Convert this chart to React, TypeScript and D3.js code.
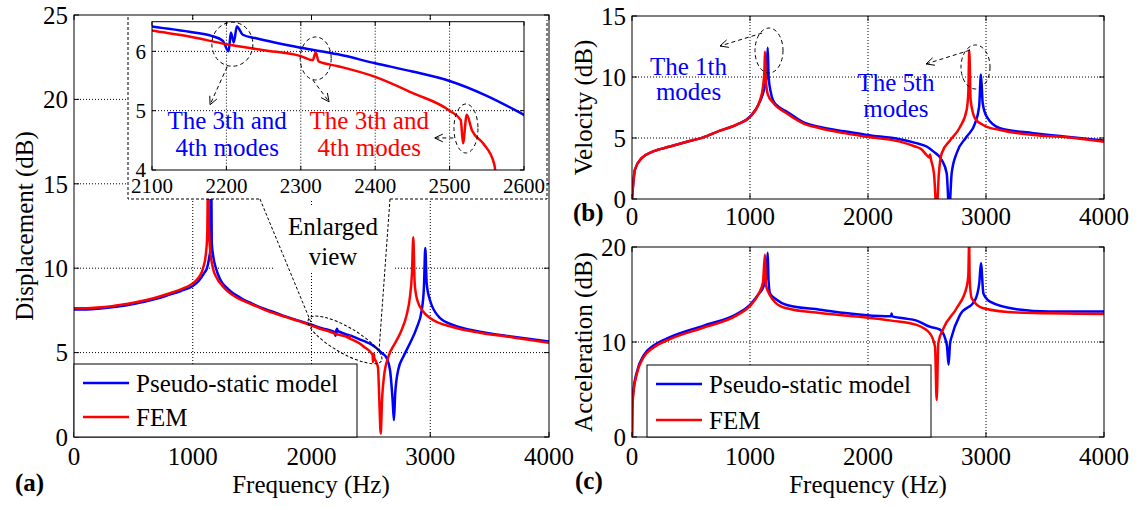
import React from "react";
import * as d3 from "d3";

// ---- data (frequency in Hz, level in dB) ----
const dispFreqPS = [0, 100, 200, 300, 400, 500, 600, 700, 800, 900, 1000, 1050, 1100, 1120, 1140, 1150, 1155, 1160, 1175, 1195, 1230, 1300, 1400, 1500, 1600, 1700, 1800, 1900, 2000, 2100, 2150, 2180, 2195, 2203, 2206, 2210, 2214, 2222, 2240, 2300, 2350, 2400, 2450, 2500, 2550, 2600, 2627, 2661, 2683, 2694, 2705, 2731, 2773, 2829, 2885, 2928, 2947, 2958, 2970, 2998, 3082, 3192, 3418, 3697, 4000];
const dispPS = [7.55, 7.56, 7.6, 7.67, 7.76, 7.88, 8.02, 8.2, 8.42, 8.65, 8.95, 9.25, 9.75, 10.0, 10.7, 11.2, 16.5, 11.5, 10.6, 10.0, 9.35, 8.75, 8.25, 7.9, 7.6, 7.35, 7.1, 6.88, 6.65, 6.42, 6.33, 6.26, 6.18, 6.0, 6.32, 6.15, 6.42, 6.28, 6.22, 6.06, 5.95, 5.8, 5.66, 5.5, 5.25, 4.93, 4.75, 3.97, 2.2, 1.0, 2.6, 4.0, 4.75, 5.55, 6.45, 7.5, 8.9, 11.2, 9.1, 8.1, 7.05, 6.64, 6.24, 5.94, 5.65];
const dispFreqFEM = [0, 100, 200, 300, 400, 500, 600, 700, 800, 900, 1000, 1050, 1087, 1110, 1122, 1130, 1136, 1145, 1170, 1200, 1250, 1300, 1400, 1500, 1600, 1700, 1800, 1900, 2000, 2100, 2150, 2200, 2250, 2300, 2316, 2320, 2324, 2350, 2400, 2450, 2500, 2515, 2518, 2523, 2530, 2545, 2560, 2571, 2583, 2594, 2610, 2647, 2703, 2759, 2801, 2829, 2846, 2857, 2869, 2891, 2942, 2998, 3194, 3418, 3697, 4000];
const dispFEM = [7.62, 7.63, 7.67, 7.73, 7.83, 7.95, 8.1, 8.28, 8.5, 8.75, 9.1, 9.45, 10.0, 10.8, 12.0, 16.5, 12.6, 11.2, 10.0, 9.45, 8.95, 8.6, 8.15, 7.85, 7.55, 7.3, 7.07, 6.85, 6.6, 6.35, 6.25, 6.12, 6.02, 5.92, 5.85, 5.98, 5.83, 5.75, 5.57, 5.3, 5.0, 4.84, 4.45, 4.93, 4.67, 4.45, 4.1, 2.2, 0.2, 2.2, 3.57, 4.75, 5.55, 6.34, 7.23, 8.3, 9.7, 11.83, 9.1, 8.1, 7.42, 7.05, 6.5, 6.18, 5.9, 5.59];

const velFreqPS = [0, 8, 25, 82, 180, 322, 450, 603, 746, 887, 1000, 1085, 1120, 1140, 1150, 1158, 1175, 1195, 1250, 1313, 1450, 1593, 1800, 1989, 2270, 2400, 2497, 2553, 2625, 2667, 2688, 2709, 2751, 2836, 2907, 2942, 2957, 2972, 3006, 3119, 3401, 3684, 4000];
const velPS = [0, 1.0, 2.4, 3.35, 3.9, 4.3, 4.65, 5.05, 5.6, 6.1, 6.75, 8.0, 9.0, 10.0, 12.4, 10.0, 8.8, 8.1, 7.5, 7.15, 6.3, 5.9, 5.55, 5.25, 4.9, 4.6, 4.3, 3.9, 3.2, 2.1, -1, 2.1, 3.75, 5.1, 6.2, 7.6, 10.2, 7.85, 6.75, 5.8, 5.4, 5.1, 4.8];
const velFreqFEM = [0, 8, 25, 82, 180, 322, 450, 603, 746, 887, 1000, 1085, 1110, 1122, 1127, 1133, 1150, 1195, 1313, 1450, 1593, 1800, 1989, 2270, 2400, 2450, 2497, 2520, 2525, 2535, 2560, 2582, 2600, 2625, 2695, 2780, 2836, 2850, 2858, 2870, 2907, 2975, 3119, 3401, 3684, 4000];
const velFEM = [0, 1.0, 2.4, 3.35, 3.9, 4.3, 4.65, 5.05, 5.6, 6.1, 6.72, 8.1, 9.2, 10.5, 12.1, 10.0, 8.6, 7.9, 7.0, 6.2, 5.8, 5.4, 5.1, 4.7, 4.3, 4.1, 3.6, 3.4, 3.65, 3.2, 2.0, -1, 2.0, 3.75, 4.8, 5.9, 7.3, 8.7, 12.2, 8.1, 6.6, 6.07, 5.65, 5.25, 5.06, 4.7];

const accFreqPS = [0, 3, 11, 40, 96, 180, 322, 603, 887, 1000, 1070, 1120, 1140, 1150, 1157, 1170, 1220, 1311, 1593, 1847, 2150, 2195, 2200, 2205, 2300, 2412, 2525, 2610, 2653, 2670, 2683, 2695, 2709, 2780, 2907, 2943, 2957, 2978, 3034, 3260, 3542, 4000];
const accPS = [0, 3.2, 4.8, 6.8, 8.55, 9.6, 10.5, 11.7, 12.95, 13.9, 15.0, 16.0, 17.0, 19.4, 16.5, 15.1, 14.5, 13.9, 13.4, 13.0, 12.72, 12.72, 13.0, 12.7, 12.5, 12.25, 11.6, 11.3, 10.4, 9.5, 7.6, 9.8, 10.55, 12.85, 14.4, 16.2, 18.3, 15.1, 14.25, 13.45, 13.2, 13.2];
const accFreqFEM = [0, 3, 11, 40, 96, 180, 322, 603, 887, 1000, 1070, 1110, 1127, 1135, 1170, 1220, 1311, 1593, 1932, 2200, 2412, 2525, 2568, 2582, 2596, 2638, 2751, 2836, 2850, 2857, 2862, 2879, 2978, 3260, 4000];
const accFEM = [0, 3.0, 4.5, 6.6, 8.35, 9.4, 10.3, 11.5, 12.8, 13.8, 15.0, 16.3, 19.2, 16.0, 14.9, 14.1, 13.55, 13.05, 12.65, 12.25, 11.8, 10.9, 9.5, 3.9, 9.9, 11.4, 13.55, 15.8, 17.0, 20.5, 16.5, 14.6, 13.55, 13.1, 12.95];

const freqTicks = [0, 1000, 2000, 3000, 4000];
const freqGrid = [1000, 2000, 3000];
const insetFreqTicks = [2100, 2200, 2300, 2400, 2500, 2600];
const legendNames = ["Pseudo-static model", "FEM"];

const FONT = "'Liberation Serif', 'Times New Roman', serif";
const BLUE = "#0000ff";
const RED = "#ff0000";

type Pt = [number, number];
const zip = (f: number[], v: number[]): Pt[] => f.map((d, i) => [d, v[i]]);
type Box = { left: number; top: number; right: number; bottom: number };

// draws one MATLAB-like axes box with grid, ticks, labels and curves
function axes(
  id: string,
  box: Box,
  x: d3.ScaleLinear<number, number>,
  y: d3.ScaleLinear<number, number>,
  xTicks: number[],
  yTicks: number[],
  gridX: number[],
  gridY: number[],
  curves: { data: Pt[]; color: string }[],
  fs: number,
  tl: number,
  labelGap: number
) {
  const line = d3
    .line<Pt>()
    .curve(d3.curveMonotoneX)
    .x((d) => x(d[0]))
    .y((d) => y(d[1]));
  return (
    <g>
      <defs>
        <clipPath id={id}>
          <rect x={box.left} y={box.top} width={box.right - box.left} height={box.bottom - box.top} />
        </clipPath>
      </defs>
      {gridX.map((v) => (
        <line key={"gx" + v} x1={x(v)} x2={x(v)} y1={box.top} y2={box.bottom} stroke="#000" strokeDasharray="1,2" />
      ))}
      {gridY.map((v) => (
        <line key={"gy" + v} x1={box.left} x2={box.right} y1={y(v)} y2={y(v)} stroke="#000" strokeDasharray="1,2" />
      ))}
      <g clipPath={`url(#${id})`}>
        {curves.map((c, i) => (
          <path key={i} d={line(c.data) || ""} fill="none" stroke={c.color} strokeWidth={2.5} strokeLinejoin="round" />
        ))}
      </g>
      <rect x={box.left} y={box.top} width={box.right - box.left} height={box.bottom - box.top} fill="none" stroke="#000" />
      {xTicks.map((v) => (
        <g key={"xt" + v}>
          <line x1={x(v)} x2={x(v)} y1={box.bottom} y2={box.bottom - tl} stroke="#000" />
          <line x1={x(v)} x2={x(v)} y1={box.top} y2={box.top + tl} stroke="#000" />
          <text x={x(v)} y={box.bottom + labelGap} textAnchor="middle" fontSize={fs}>
            {v}
          </text>
        </g>
      ))}
      {yTicks.map((v) => (
        <g key={"yt" + v}>
          <line x1={box.left} x2={box.left + tl} y1={y(v)} y2={y(v)} stroke="#000" />
          <line x1={box.right} x2={box.right - tl} y1={y(v)} y2={y(v)} stroke="#000" />
          <text x={box.left - 6} y={y(v)} dy="0.35em" textAnchor="end" fontSize={fs}>
            {v}
          </text>
        </g>
      ))}
    </g>
  );
}

// dashed arrow with an open head at (x2, y2)
function arrow(key: string, x1: number, y1: number, x2: number, y2: number) {
  const a = Math.atan2(y2 - y1, x2 - x1);
  const L = 9;
  const s = 0.45;
  const p1 = [x2 - L * Math.cos(a - s), y2 - L * Math.sin(a - s)];
  const p2 = [x2 - L * Math.cos(a + s), y2 - L * Math.sin(a + s)];
  return (
    <g key={key}>
      <line x1={x1} y1={y1} x2={x2} y2={y2} stroke="#000" strokeDasharray="4,3" />
      <path d={`M${p1[0]},${p1[1]}L${x2},${y2}L${p2[0]},${p2[1]}`} fill="none" stroke="#000" />
    </g>
  );
}

function legend(x0: number, y0: number, w: number, h: number, rowY: number[], fs: number) {
  return (
    <g>
      <rect x={x0} y={y0} width={w} height={h} fill="#fff" stroke="#000" />
      {legendNames.map((n, i) => (
        <g key={n}>
          <line x1={x0 + 9} x2={x0 + 55} y1={rowY[i]} y2={rowY[i]} stroke={i === 0 ? BLUE : RED} strokeWidth={2.5} />
          <text x={x0 + 62} y={rowY[i] + 9} fontSize={fs}>
            {n}
          </text>
        </g>
      ))}
    </g>
  );
}

export default function App() {
  const W = 1138;
  const H = 508;
  const fs = 25;

  // layout of the three panels and the zoomed inset
  const boxA: Box = { left: 74, top: 15, right: 549, bottom: 437 };
  const boxB: Box = { left: 632, top: 16, right: 1104, bottom: 199 };
  const boxC: Box = { left: 632, top: 247, right: 1104, bottom: 437 };
  const boxI: Box = { left: 152, top: 21.7, right: 524, bottom: 170 };
  const insetBg = { left: 128, top: 20, right: 547, bottom: 199 };

  const xA = d3.scaleLinear().domain([0, 4000]).range([boxA.left, boxA.right]);
  const yA = d3.scaleLinear().domain([0, 25]).range([boxA.bottom, boxA.top]);
  const xB = d3.scaleLinear().domain([0, 4000]).range([boxB.left, boxB.right]);
  const yB = d3.scaleLinear().domain([0, 15]).range([boxB.bottom, boxB.top]);
  const xC = d3.scaleLinear().domain([0, 4000]).range([boxC.left, boxC.right]);
  const yC = d3.scaleLinear().domain([0, 20]).range([boxC.bottom, boxC.top]);
  const xI = d3.scaleLinear().domain([2100, 2600]).range([boxI.left, boxI.right]);
  const yI = d3.scaleLinear().domain([4, 6.5]).range([boxI.bottom, boxI.top]);

  const dispCurves = [
    { data: zip(dispFreqPS, dispPS), color: BLUE },
    { data: zip(dispFreqFEM, dispFEM), color: RED },
  ];
  const velCurves = [
    { data: zip(velFreqPS, velPS), color: BLUE },
    { data: zip(velFreqFEM, velFEM), color: RED },
  ];
  const accCurves = [
    { data: zip(accFreqPS, accPS), color: BLUE },
    { data: zip(accFreqFEM, accFEM), color: RED },
  ];

  const elCx = xA(2282);
  const elCy = yA(5.75);

  return (
    <svg
      width={W}
      height={H}
      style={{ position: "absolute", left: 0, top: 0, background: "#fff" }}
      fontFamily={FONT}
    >
      <rect width={W} height={H} fill="#fff" />

      {/* (a) displacement */}
      {axes("clipA", boxA, xA, yA, freqTicks, [0, 5, 10, 15, 20, 25], freqGrid, [5, 10, 15, 20], dispCurves, fs, 5, 28)}
      {legend(boxA.left, 364, 283, 73, [383, 417], fs)}

      {/* white box behind the "Enlarged view" note */}
      <rect x={273} y={205} width={120} height={67} fill="#fff" />
      <text x={xA(2181)} y={yA(11.97)} textAnchor="middle" fontSize={fs}>
        Enlarged
      </text>
      <text x={xA(2181)} y={yA(10.19)} textAnchor="middle" fontSize={fs}>
        view
      </text>
      <ellipse
        cx={elCx}
        cy={elCy}
        rx={42}
        ry={13}
        transform={`rotate(30 ${elCx} ${elCy})`}
        fill="none"
        stroke="#000"
        strokeDasharray="3,2"
      />

      {/* inset: enlarged view 2100-2600 Hz */}
      <rect
        x={insetBg.left}
        y={insetBg.top}
        width={insetBg.right - insetBg.left}
        height={insetBg.bottom - insetBg.top}
        fill="#fff"
      />
      <path
        d={`M${insetBg.left},${insetBg.top - 3}V${insetBg.bottom}H260M390,${insetBg.bottom}H${insetBg.right}V${insetBg.top}`}
        fill="none"
        stroke="#000"
        strokeDasharray="3,2"
      />
      <line x1={260} y1={insetBg.bottom} x2={xA(2004)} y2={yA(6.64)} stroke="#000" strokeDasharray="3,2" />
      <line x1={390} y1={insetBg.bottom} x2={xA(2568)} y2={yA(5.04)} stroke="#000" strokeDasharray="3,2" />
      {axes("clipI", boxI, xI, yI, insetFreqTicks, [4, 5, 6], [2200, 2300, 2400, 2500], [5, 6], dispCurves, 21, 4, 23)}

      <ellipse cx={xI(2208)} cy={yI(6.12)} rx={20.5} ry={22} fill="none" stroke="#000" strokeDasharray="4,3" />
      {arrow("ia1", xI(2201), yI(5.74), xI(2178), yI(5.1))}
      <text x={xI(2201)} y={yI(4.69)} textAnchor="middle" fontSize={fs} fill={BLUE}>
        The 3th and
      </text>
      <text x={xI(2201)} y={yI(4.24)} textAnchor="middle" fontSize={fs} fill={BLUE}>
        4th modes
      </text>
      <ellipse cx={xI(2320)} cy={yI(5.88)} rx={15.5} ry={21.5} fill="none" stroke="#000" strokeDasharray="4,3" />
      {arrow("ia2", xI(2316), yI(5.52), xI(2338), yI(5.15))}
      <ellipse cx={xI(2522)} cy={yI(4.7)} rx={12} ry={24.5} fill="none" stroke="#000" strokeDasharray="4,3" />
      {arrow("ia3", xI(2505), yI(4.54), xI(2480), yI(4.54))}
      <text x={xI(2392)} y={yI(4.69)} textAnchor="middle" fontSize={fs} fill={RED}>
        The 3th and
      </text>
      <text x={xI(2392)} y={yI(4.24)} textAnchor="middle" fontSize={fs} fill={RED}>
        4th modes
      </text>

      <g transform="translate(33,226) rotate(-90)">
        <text textAnchor="middle" fontSize={fs}>
          Displacement (dB)
        </text>
      </g>
      <text x={311} y={493} textAnchor="middle" fontSize={fs}>
        Frequency (Hz)
      </text>
      <text x={15} y={491} fontSize={fs} fontWeight="bold">
        (a)
      </text>

      {/* (b) velocity */}
      {axes("clipB", boxB, xB, yB, freqTicks, [0, 5, 10, 15], freqGrid, [5, 10], velCurves, fs, 5, 26)}
      <ellipse cx={xB(1161)} cy={yB(12.17)} rx={14} ry={22.5} fill="none" stroke="#000" strokeDasharray="4,3" />
      {arrow("b1", xB(1102), yB(13.6), xB(746), yB(12.54))}
      <text x={xB(479)} y={yB(10.16)} textAnchor="middle" fontSize={fs} fill={BLUE}>
        The 1th
      </text>
      <text x={xB(479)} y={yB(8.11)} textAnchor="middle" fontSize={fs} fill={BLUE}>
        modes
      </text>
      <ellipse cx={xB(2911)} cy={yB(10.82)} rx={14.5} ry={22} fill="none" stroke="#000" strokeDasharray="4,3" />
      {arrow("b2", xB(2864), yB(12.2), xB(2492), yB(11.07))}
      <text x={xB(2237)} y={yB(8.85)} textAnchor="middle" fontSize={fs} fill={BLUE}>
        The 5th
      </text>
      <text x={xB(2237)} y={yB(6.72)} textAnchor="middle" fontSize={fs} fill={BLUE}>
        modes
      </text>
      <g transform="translate(592,107.5) rotate(-90)">
        <text textAnchor="middle" fontSize={fs}>
          Velocity (dB)
        </text>
      </g>
      <text x={573} y={221} fontSize={fs} fontWeight="bold">
        (b)
      </text>

      {/* (c) acceleration */}
      {axes("clipC", boxC, xC, yC, freqTicks, [0, 10, 20], freqGrid, [10], accCurves, fs, 5, 28)}
      {legend(647, 365, 284, 72, [384, 420], fs)}
      <g transform="translate(592,342) rotate(-90)">
        <text textAnchor="middle" fontSize={fs}>
          Acceleration (dB)
        </text>
      </g>
      <text x={868} y={493} textAnchor="middle" fontSize={fs}>
        Frequency (Hz)
      </text>
      <text x={575} y={489} fontSize={fs} fontWeight="bold">
        (c)
      </text>
    </svg>
  );
}
